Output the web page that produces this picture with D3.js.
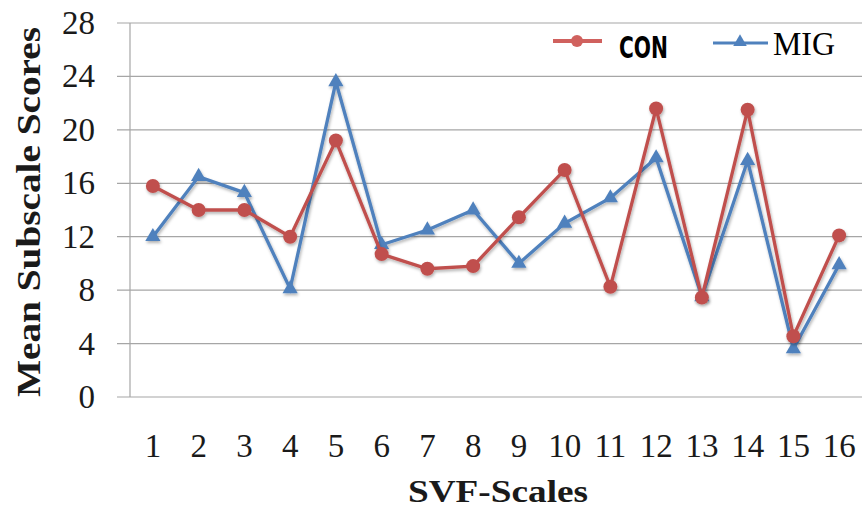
<!DOCTYPE html>
<html>
<head>
<meta charset="utf-8">
<script src="https://cdn.jsdelivr.net/npm/d3@7"></script>
<style>
  html, body { margin: 0; padding: 0; background: #fff; }
  svg { display: block; }
</style>
</head>
<body>
<svg id="chart" width="864" height="508"></svg>
<script>
const categories = ["1","2","3","4","5","6","7","8","9","10","11","12","13","14","15","16"];
const conValues = [15.8, 14.0, 14.0, 12.0, 19.2, 10.7, 9.6, 9.8, 13.45, 17.0, 8.25, 21.6, 7.45, 21.5, 4.55, 12.1];
const migValues = [12.0, 16.5, 15.3, 8.1, 23.6, 11.4, 12.5, 14.0, 10.0, 13.0, 14.9, 17.9, 7.5, 17.7, 3.6, 9.9];
const yTicks = [0, 4, 8, 12, 16, 20, 24, 28];
const seriesNames = ["CON", "MIG"];

const svg = d3.select("#chart");
const pLeft = 130, pRight = 862, pTop = 23, pBottom = 397;

const x = d3.scaleBand().domain(categories).range([pLeft, pRight]).padding(0);
const y = d3.scaleLinear().domain([0, 28]).range([pBottom, pTop]);

const red = "#c0504d", blue = "#4f81bd";

const defs = svg.append("defs");
const f = defs.append("filter").attr("id", "shadow").attr("x", "-20%").attr("y", "-20%").attr("width", "140%").attr("height", "140%");
f.append("feDropShadow").attr("dx", 1).attr("dy", 2).attr("stdDeviation", 1.5).attr("flood-color", "#000").attr("flood-opacity", 0.3);

// gridlines (with left tick stubs)
svg.append("g").selectAll("line").data(yTicks).join("line")
  .attr("x1", 117).attr("x2", pRight)
  .attr("y1", d => y(d)).attr("y2", d => y(d))
  .attr("stroke", "#a6a6a6").attr("stroke-width", 1.2);

// y axis line
svg.append("line").attr("x1", pLeft).attr("x2", pLeft).attr("y1", pTop).attr("y2", pBottom)
  .attr("stroke", "#a6a6a6").attr("stroke-width", 1.2);

// y tick labels
svg.append("g").selectAll("text").data(yTicks).join("text")
  .attr("x", 95).attr("y", d => y(d) + 11)
  .attr("text-anchor", "end")
  .attr("font-family", "Liberation Serif, serif").attr("font-size", 33).attr("fill", "#1a1a1a")
  .text(d => d);

// x tick labels
svg.append("g").selectAll("text").data(categories).join("text")
  .attr("x", d => x(d) + x.bandwidth() / 2).attr("y", 457)
  .attr("text-anchor", "middle")
  .attr("font-family", "Liberation Serif, serif").attr("font-size", 33).attr("fill", "#1a1a1a")
  .text(d => d);

// axis titles
svg.append("text")
  .attr("transform", `translate(40, ${(pTop + pBottom) / 2 + 2}) rotate(-90)`)
  .attr("text-anchor", "middle")
  .attr("font-family", "Liberation Serif, serif").attr("font-weight", "bold").attr("font-size", 33)
  .attr("textLength", 370).attr("lengthAdjust", "spacingAndGlyphs")
  .attr("fill", "#1a1a1a")
  .text("Mean Subscale Scores");

svg.append("text")
  .attr("x", (pLeft + pRight) / 2 + 2).attr("y", 502)
  .attr("text-anchor", "middle")
  .attr("font-family", "Liberation Serif, serif").attr("font-weight", "bold").attr("font-size", 32)
  .attr("textLength", 180).attr("lengthAdjust", "spacingAndGlyphs")
  .attr("fill", "#1a1a1a")
  .text("SVF-Scales");

const line = d3.line().x((d, i) => x(categories[i]) + x.bandwidth() / 2).y(d => y(d));

// MIG series
const gMig = svg.append("g").attr("filter", "url(#shadow)");
gMig.append("path").datum(migValues).attr("d", line)
  .attr("fill", "none").attr("stroke", blue).attr("stroke-width", 3.3).attr("stroke-linejoin", "miter");
gMig.selectAll("path.m").data(migValues).join("path").attr("class", "m")
  .attr("transform", (d, i) => `translate(${x(categories[i]) + x.bandwidth() / 2},${y(d)})`)
  .attr("d", d3.symbol(d3.symbolTriangle, 100))
  .attr("fill", blue);

// CON series
const gCon = svg.append("g").attr("filter", "url(#shadow)");
gCon.append("path").datum(conValues).attr("d", line)
  .attr("fill", "none").attr("stroke", red).attr("stroke-width", 3.3).attr("stroke-linejoin", "miter");
gCon.selectAll("circle").data(conValues).join("circle")
  .attr("cx", (d, i) => x(categories[i]) + x.bandwidth() / 2).attr("cy", d => y(d))
  .attr("r", 7).attr("fill", red);

// legend
const lg = svg.append("g");
lg.append("line").attr("x1", 553).attr("x2", 602).attr("y1", 41).attr("y2", 41)
  .attr("stroke", "#d0615e").attr("stroke-width", 4);
lg.append("circle").attr("cx", 577).attr("cy", 41).attr("r", 6).attr("fill", "#d0615e");
lg.append("text").attr("x", 619).attr("y", 58)
  .attr("font-family", "Liberation Sans Narrow, DejaVu Sans Condensed, Liberation Sans, sans-serif")
  .attr("font-size", 31).attr("font-weight", "bold").attr("fill", "#000")
  .attr("textLength", 49).attr("lengthAdjust", "spacingAndGlyphs")
  .text(seriesNames[0]);

lg.append("line").attr("x1", 713).attr("x2", 768).attr("y1", 43).attr("y2", 43)
  .attr("stroke", blue).attr("stroke-width", 3);
lg.append("path").attr("transform", "translate(740,42)")
  .attr("d", d3.symbol(d3.symbolTriangle, 80)).attr("fill", blue);
lg.append("text").attr("x", 773).attr("y", 55)
  .attr("font-family", "Liberation Serif, serif")
  .attr("font-size", 33).attr("fill", "#000")
  .attr("textLength", 62).attr("lengthAdjust", "spacingAndGlyphs")
  .text(seriesNames[1]);
</script>
</body>
</html>
